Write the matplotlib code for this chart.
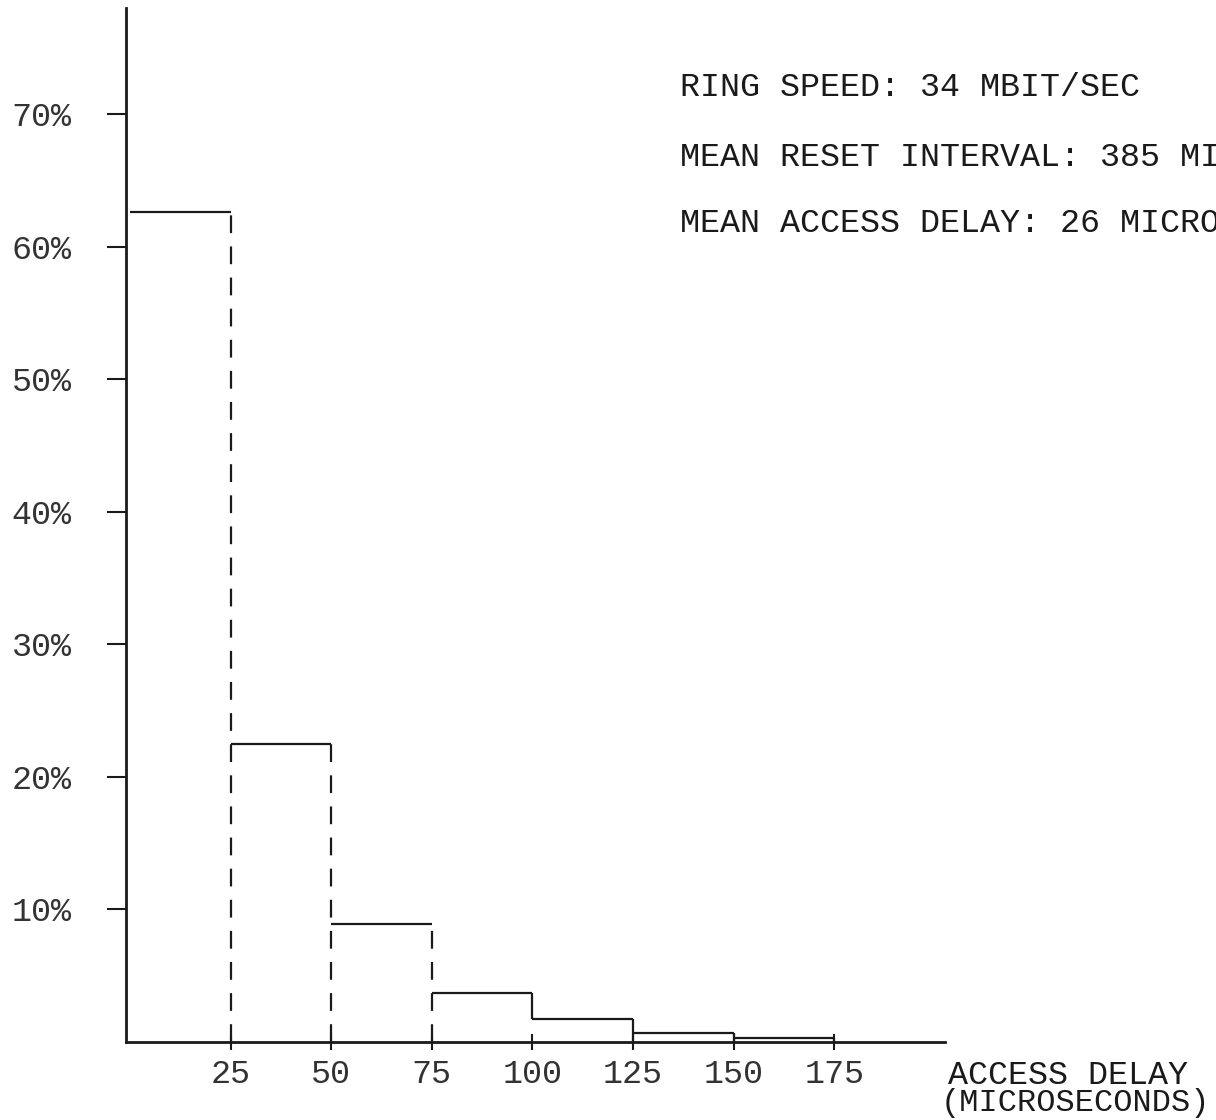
#!/usr/bin/env python3
"""
Access delay histogram (ring network measurement)
"""

import matplotlib.pyplot as plt

# bin edges (microseconds) and share of accesses per bin (%)
bin_edges = [0, 25, 50, 75, 100, 125, 150, 175]
share_pct = [62.6, 22.5, 8.9, 3.7, 1.75, 0.7, 0.3]

x_ticks = [25, 50, 75, 100, 125, 150, 175]
y_ticks = [10, 20, 30, 40, 50, 60, 70]
y_tick_labels = ['10%', '20%', '30%', '40%', '50%', '60%', '70%']

notes = [
    'RING SPEED: 34 MBIT/SEC',
    'MEAN RESET INTERVAL: 385 MICROSECONDS',
    'MEAN ACCESS DELAY: 26 MICROSECONDS',
]

FONT = ['Liberation Mono', 'DejaVu Sans Mono']
INK = '#1a1a1a'


def plot_histogram():
    fig = plt.figure(figsize=(12.16, 11.2), dpi=100)
    ax = fig.add_axes([0.1036, 0.0696, 0.6735, 0.9234])

    lw = 1.6
    # tops of the bars
    ax.hlines(share_pct, bin_edges[:-1], bin_edges[1:], color=INK, linewidth=lw)

    # right edges: dashed down to the axis for the first three bins,
    # a short solid drop at 100, solid to the axis after that
    for i in range(1, len(bin_edges)):
        x = bin_edges[i]
        left_h = share_pct[i - 1]
        if i <= 3:
            ax.vlines(x, 0, left_h, color=INK, linewidth=lw,
                      linestyles=(0, (8, 6)))
        elif i == 4:
            ax.vlines(x, share_pct[i], left_h, color=INK, linewidth=lw)
        else:
            ax.vlines(x, 0, left_h, color=INK, linewidth=lw)

    ax.set_xlim(-1, 202.5)
    ax.set_ylim(0, 78)

    for side in ['top', 'right']:
        ax.spines[side].set_visible(False)
    for side in ['left', 'bottom']:
        ax.spines[side].set_linewidth(2.0)
        ax.spines[side].set_color(INK)

    ax.set_xticks(x_ticks)
    ax.set_xticklabels([str(v) for v in x_ticks])
    ax.set_yticks(y_ticks)
    ax.set_yticklabels(y_tick_labels)

    ax.tick_params(axis='x', direction='inout', length=11, width=1.5,
                   pad=7, colors=INK, labelsize=24)
    ax.tick_params(axis='y', direction='out', length=14, width=1.5,
                   pad=25, colors=INK, labelsize=24)
    for lab in ax.get_xticklabels() + ax.get_yticklabels():
        lab.set_family(FONT)
        lab.set_color('#333333')

    # x axis title to the right of the axis end
    fig.text(1068 / 1216, 1 - 1075 / 1120, 'ACCESS DELAY', family=FONT,
             fontsize=24, color=INK, ha='center', va='center')
    fig.text(1075 / 1216, 1 - 1103 / 1120, '(MICROSECONDS)', family=FONT,
             fontsize=23, color=INK, ha='center', va='center')

    # annotation block in the upper right (runs off the page, as printed)
    note_y = [87, 157, 223]
    for txt, yp in zip(notes, note_y):
        fig.text(680 / 1216, 1 - yp / 1120, txt, family=FONT, fontsize=24,
                 color=INK, ha='left', va='center')

    fig.savefig('out.png', dpi=100)
    plt.close(fig)


if __name__ == "__main__":
    plot_histogram()
